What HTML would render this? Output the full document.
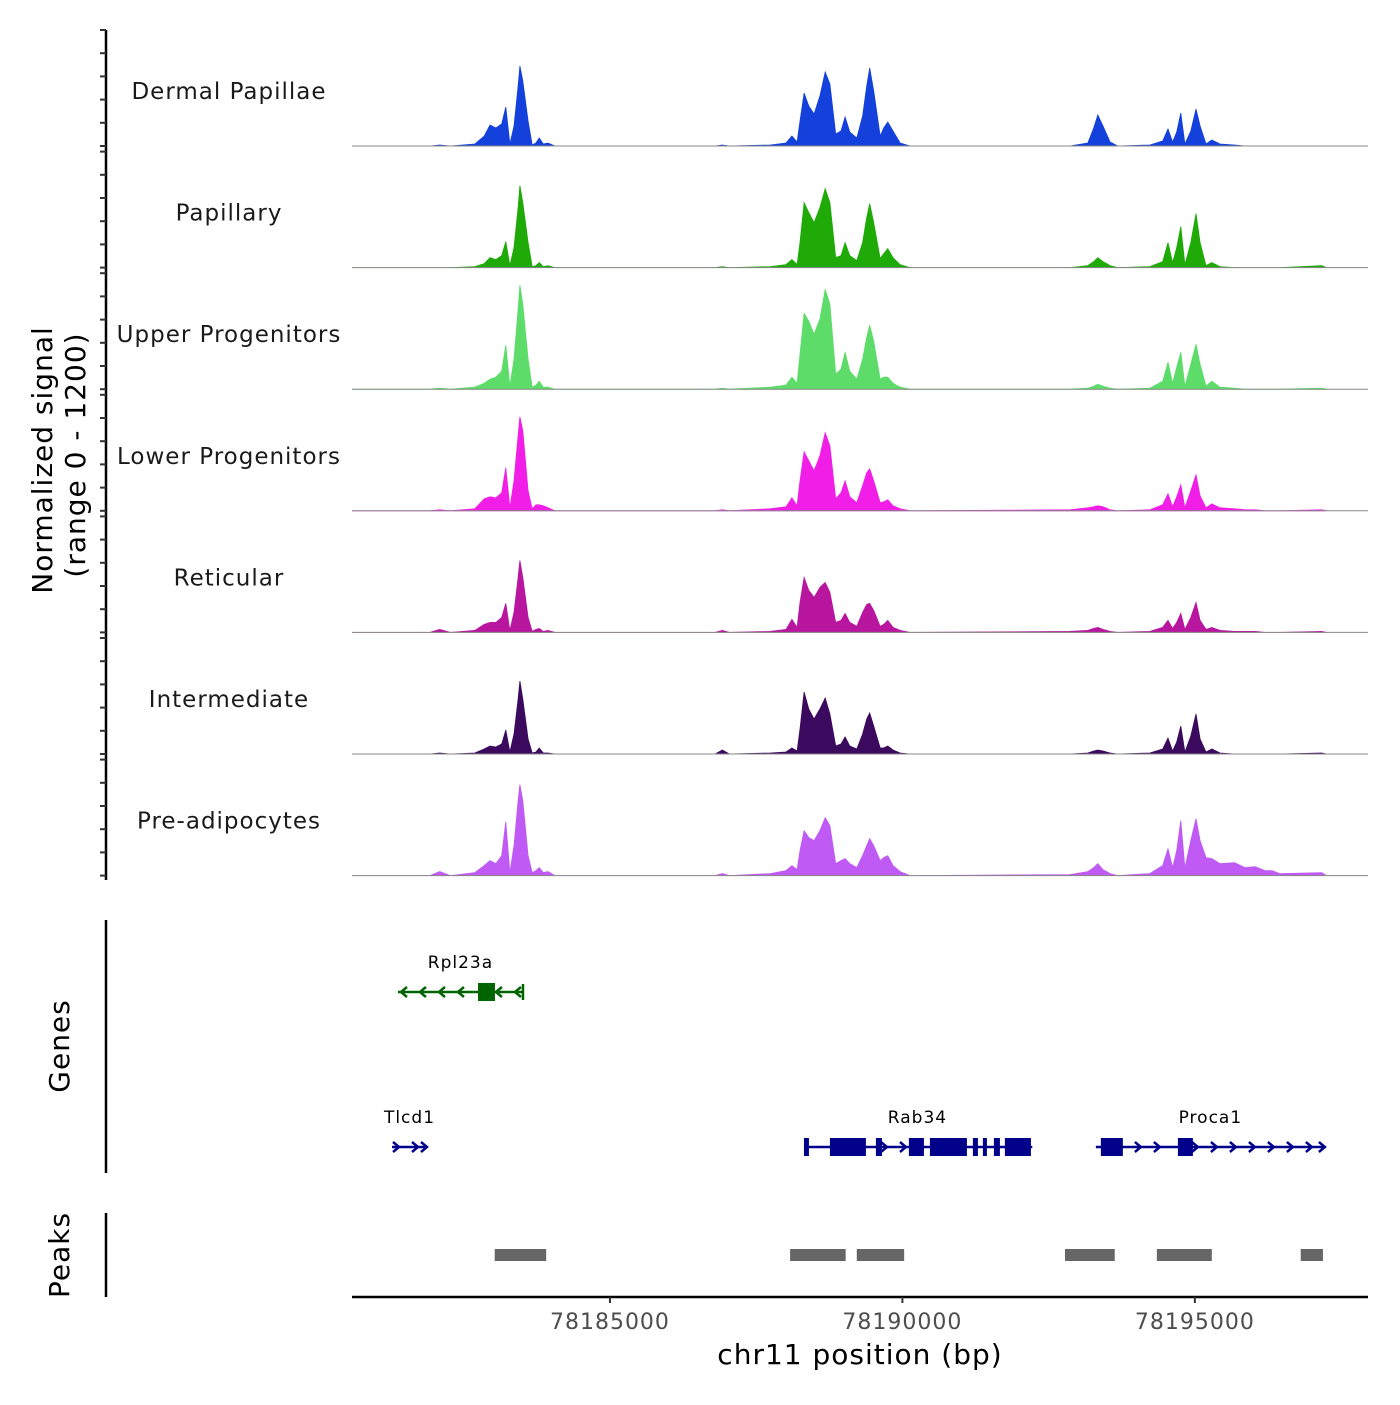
<!DOCTYPE html>
<html><head><meta charset="utf-8"><style>
body{margin:0;background:#fff}
svg text{font-family:"DejaVu Sans","Liberation Sans",sans-serif;letter-spacing:1px}
</style></head><body>
<svg id="chart" width="1400" height="1400" xmlns="http://www.w3.org/2000/svg"></svg>
<script>
const trackNames=["Dermal Papillae","Papillary","Upper Progenitors","Lower Progenitors","Reticular","Intermediate","Pre-adipocytes"];
const trackColors=["#1440dc","#1faa08","#5ddc6a","#f01ee6","#b8169f","#3b0a5e","#bf5af5"];
const positions=[78180590,78181920,78182090,78182270,78182690,78182850,78182950,78183050,78183150,78183220,78183290,78183360,78183430,78183460,78183510,78183600,78183670,78183735,78183790,78183860,78183940,78184060,
78186800,78186920,78187040,
78187740,78188010,78188110,78188200,78188250,78188320,78188400,78188490,78188590,78188680,78188760,78188860,78188950,78189020,78189100,78189220,78189320,78189390,78189440,78189510,78189620,78189680,78189750,78189840,78189960,78190130,
78192860,78193170,78193270,78193340,78193430,78193550,78193680,
78194230,78194450,78194540,78194620,78194690,78194760,78194830,78194930,78195020,78195090,78195190,78195290,78195430,78195680,78195855,78196030,78196200,78196320,78196450,78197170,78197250];
const sigDermal=[0,0,10,0,20,100,210,180,220,390,20,200,600,800,650,250,10,30,80,20,30,0, 0,10,0, 10,30,100,40,250,530,400,320,500,740,620,120,150,290,140,80,300,600,780,550,100,180,240,150,30,0, 0,30,180,310,200,40,0, 10,50,170,40,140,330,20,150,370,200,20,60,20,10,0,0,0,0,0,0,0];
const sigPapillary=[0,0,0,0,10,40,100,80,120,260,20,200,600,820,650,250,10,20,50,10,20,0, 0,10,0, 10,30,80,30,250,650,550,450,600,790,650,100,120,250,120,70,250,500,640,450,90,140,190,100,30,0, 0,20,60,100,60,20,0, 10,60,250,50,200,410,30,250,540,250,20,50,10,0,0,0,0,0,0,20,0];
const sigUpper=[0,0,10,0,20,60,100,120,180,440,30,300,800,1040,850,300,20,40,80,20,20,0, 0,10,0, 20,40,120,60,350,760,680,550,700,1000,850,150,200,370,180,100,300,520,640,480,100,120,120,60,20,0, 0,10,30,50,30,10,0, 10,80,270,60,220,370,30,250,450,250,30,80,20,10,0,0,0,0,0,10,0];
const sigLower=[0,0,10,0,20,120,140,130,180,430,30,300,750,940,800,200,20,60,60,50,30,0, 0,10,0, 20,40,130,50,300,590,500,400,550,780,650,120,180,300,140,80,250,380,420,300,80,90,110,50,20,0, 10,30,40,50,40,10,0, 10,60,170,40,140,260,30,200,360,150,30,70,30,20,10,10,0,0,0,10,0];
const sigReticular=[0,0,30,0,20,80,100,100,150,290,20,200,550,720,550,150,10,30,40,10,20,0, 0,20,0, 10,30,130,50,300,550,420,350,450,500,400,100,120,190,100,60,200,280,290,220,60,80,120,50,20,0, 10,20,40,50,30,10,0, 10,50,120,40,100,190,30,150,300,120,30,50,20,10,10,10,0,0,0,10,0];
const sigIntermediate=[0,0,10,0,10,50,80,70,100,240,20,200,550,730,550,150,10,20,60,10,10,0, 0,40,0, 10,20,60,30,250,620,450,350,450,560,400,80,100,170,80,50,200,350,410,280,60,60,80,40,10,0, 0,10,30,40,30,10,0, 10,50,160,30,120,280,20,180,400,150,20,50,10,0,0,0,0,0,0,10,0];
const sigPreadipo=[0,0,40,0,30,100,150,120,200,540,30,300,750,910,750,200,30,50,80,30,40,0, 0,20,0, 20,50,100,60,250,450,380,350,450,580,500,120,150,170,120,80,200,300,370,300,150,180,200,100,40,0, 10,40,80,120,60,20,0, 20,100,270,80,250,550,80,350,570,350,180,170,120,130,80,90,50,50,20,30,0];
const signals=[sigDermal,sigPapillary,sigUpper,sigLower,sigReticular,sigIntermediate,sigPreadipo];
const yMax=1200;
const xTicks=[78185000,78190000,78195000];
const peakStarts=[78183030,78188080,78189220,78192780,78194350,78196810];
const peakEnds=[78183910,78189030,78190030,78193630,78195290,78197190];
const geneNames=["Rpl23a","Tlcd1","Rab34","Proca1"];
const geneStarts=[78181376,78181274,78188317,78193308];
const geneEnds=[78183513,78181872,78192197,78197223];
const geneStrand=[-1,1,1,1];
const geneExons=[[[78182744,78183034]],[],[[78188317,78188402],[78188761,78189376],[78189547,78189650],[78190111,78190368],[78190470,78191103],[78191205,78191291],[78191376,78191445],[78191564,78191667],[78191752,78192197]],[[78193393,78193769],[78194710,78194966]]];
const geneColors=["#006400","#00008b","#00008b","#00008b"];
const geneRows=[0,1,1,1];

const NS="http://www.w3.org/2000/svg";
const svg=document.getElementById('chart');
const X0=352,X1=1368,BP0=78180590,BP1=78197960;
function xs(bp){return X0+(bp-BP0)*(X1-X0)/(BP1-BP0);}
function mk(tag,attrs,parent){const e=document.createElementNS(NS,tag);for(const k in attrs)e.setAttribute(k,attrs[k]);(parent||svg).appendChild(e);return e;}
const trackH=121.6, base0=146, dataH=120;
function ys(v,i){return base0+i*trackH - v/yMax*dataH;}

const ax=mk('line',{x1:106,y1:30,x2:106,y2:880,stroke:'#000','stroke-width':2.5});


for(let i=0;i<7;i++){
  const b=base0+i*trackH;
  for(let k=0;k<6;k++){
    const y=b-k*23.2;
    const t=mk('line',{x1:100,y1:y,x2:106,y2:y,stroke:'#333','stroke-width':2});
    
    
  }
}
const yt=mk('text',{x:0,y:0,'font-size':28,'text-anchor':'middle',transform:'translate(52,460) rotate(-90)'});
yt.textContent='Normalized signal';


const yt2=mk('text',{x:0,y:0,'font-size':28,'text-anchor':'middle',transform:'translate(85,455) rotate(-90)'});
yt2.textContent='(range 0 - 1200)';



for(let i=0;i<7;i++){
  const b=base0+i*trackH;
  const vals=signals[i];
  const n=Math.min(vals.length,positions.length);
  let d='M'+xs(positions[0])+','+b;
  for(let j=0;j<n;j++)d+=' L'+xs(positions[j]).toFixed(1)+','+ys(vals[j],i).toFixed(1);
  d+=' L'+xs(positions[n-1])+','+b+' Z';
  const p=mk('path',{d:d,fill:trackColors[i],stroke:trackColors[i],'stroke-width':0.8});
  
  
  const bl=mk('line',{x1:X0,y1:b,x2:X1,y2:b,stroke:'#888','stroke-width':1});
  
  
  const lb=mk('text',{x:229,y:b-47,'font-size':23,'text-anchor':'middle',fill:'#1a1a1a'});
  lb.textContent=trackNames[i];
  
  
}

const ga=mk('line',{x1:106,y1:920,x2:106,y2:1173,stroke:'#000','stroke-width':2.5});


const gt=mk('text',{x:0,y:0,'font-size':28,'text-anchor':'middle',transform:'translate(69,1046) rotate(-90)'});
gt.textContent='Genes';


const rowY=[992,1147];
function arrow(x,y,dir,col){
  const a=mk('path',{d:`M${x-4*dir},${y-5} L${x+2*dir},${y} L${x-4*dir},${y+5}`,fill:'none',stroke:col,'stroke-width':2.5});
  
  
}
for(let g=0;g<geneNames.length;g++){
  const y=rowY[geneRows[g]],col=geneColors[g];
  const xa=xs(geneStarts[g]),xb=xs(geneEnds[g]);
  const grp=mk('g',{});
  
  
  mk('line',{x1:xa,y1:y,x2:xb,y2:y,stroke:col,'stroke-width':2.5},grp);
  const step=19;
  const dir=geneStrand[g];
  for(let x=xa+5;x<=xb-2;x+=step){
    let inEx=false;
    for(const e of geneExons[g]){if(x>xs(e[0])-3&&x<xs(e[1])+3)inEx=true;}
    if(!inEx)arrow(x,y,dir,col);
  }
  if(dir>0)arrow(xb-2,y,1,col);
  if(g===0)mk('line',{x1:xb,y1:y-8,x2:xb,y2:y+8,stroke:col,'stroke-width':2.5},grp);
  for(const e of geneExons[g]){
    const r=mk('rect',{x:xs(e[0]),y:y-9,width:Math.max(3,xs(e[1])-xs(e[0])),height:18,fill:col},grp);
    
    
  }
  const t=mk('text',{x:(xa+xb)/2,y:y-24,'font-size':17,'text-anchor':'middle',fill:'#000'});
  t.textContent=geneNames[g];
  
  
}

const pa=mk('line',{x1:106,y1:1213,x2:106,y2:1297,stroke:'#000','stroke-width':2.5});


const pt=mk('text',{x:0,y:0,'font-size':28,'text-anchor':'middle',transform:'translate(69,1255) rotate(-90)'});
pt.textContent='Peaks';


for(let k=0;k<peakStarts.length;k++){
  const r=mk('rect',{x:xs(peakStarts[k]),y:1249,width:xs(peakEnds[k])-xs(peakStarts[k]),height:12,fill:'#666'});
  
  
}

const xa=mk('line',{x1:X0,y1:1297,x2:X1,y2:1297,stroke:'#000','stroke-width':2.5});


for(const v of xTicks){
  const x=xs(v);
  const t=mk('line',{x1:x,y1:1297,x2:x,y2:1303,stroke:'#333','stroke-width':2});
  
  
  const l=mk('text',{x:x,y:1329,'font-size':22,'text-anchor':'middle',fill:'#4d4d4d'});
  l.textContent=String(v);
  
  
}
const xt=mk('text',{x:860,y:1364,'font-size':28,'text-anchor':'middle',fill:'#000'});
xt.textContent='chr11 position (bp)';


</script>
</body></html>
